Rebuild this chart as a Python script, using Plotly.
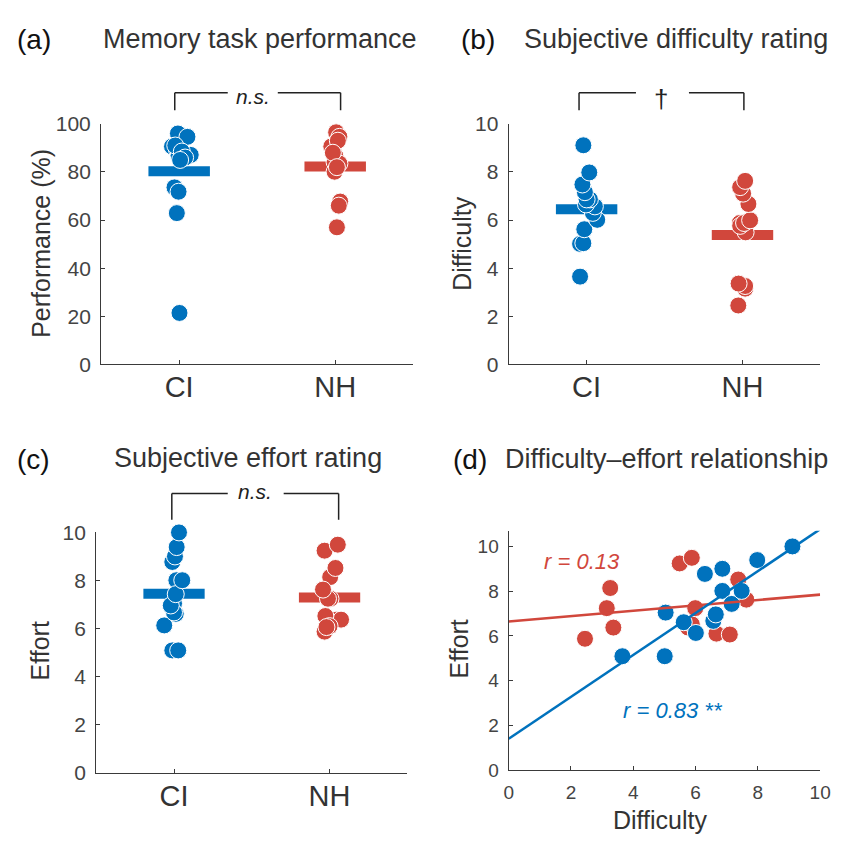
import numpy as np
import plotly.graph_objects as go

# ---------------- data ----------------
groups = ["CI", "NH"]

perf_CI = [96.0, 94.6, 90.6, 89.5, 87.1, 86.8, 73.6, 71.8, 62.9, 21.4, 91.0, 88.5, 86.0, 85.0]
perf_NH = [96.5, 94.6, 90.6, 86.8, 84.1, 83.5, 80.1, 67.7, 57.0, 93.0, 88.0, 82.0, 66.0]
jit_perf_CI = [-0.008, 0.053, -0.046, -0.015, 0.074, -0.004, -0.030, -0.004, -0.015, 0.002, -0.025, 0.017, 0.038, 0.006]
jit_perf_NH = [0.006, 0.027, -0.025, 0.0, -0.004, 0.027, -0.004, 0.032, 0.011, 0.017, -0.015, 0.011, 0.023]

diff_CI = [3.65, 5.01, 5.04, 5.62, 6.01, 6.30, 6.57, 6.65, 6.86, 6.86, 7.16, 7.48, 7.98, 9.11]
effort_CI = [5.09, 5.09, 7.04, 6.61, 6.13, 8.77, 6.67, 6.96, 9.00, 8.01, 7.43, 8.01, 9.39, 10.0]
diff_NH = [2.45, 3.15, 3.26, 3.36, 5.49, 5.88, 5.76, 5.88, 5.99, 6.67, 7.10, 7.37, 7.63]
effort_NH = [5.87, 7.24, 8.14, 6.37, 9.24, 9.49, 6.37, 6.52, 7.24, 6.10, 6.06, 8.52, 7.62]

jit_diff_CI = [-0.042, -0.042, -0.021, -0.015, 0.068, 0.040, 0.053, -0.004, 0.021, 0.0, -0.011, -0.027, 0.017, -0.021]
jit_diff_NH = [-0.027, 0.017, 0.017, -0.025, 0.020, -0.017, -0.015, 0.010, 0.049, 0.038, 0.004, -0.015, 0.017]
jit_eff_CI = [-0.011, 0.027, 0.0, 0.011, -0.063, -0.011, 0.0, -0.021, 0.006, 0.015, 0.011, 0.053, 0.017, 0.032]
jit_eff_NH = [-0.032, 0.006, 0.004, 0.042, -0.032, 0.053, 0.074, -0.027, -0.010, 0.0, -0.020, 0.038, -0.042]

r_text = {"NH": "r = 0.13", "CI": "r = 0.83 **"}

BLUE = "#0072BD"
RED = "#D1473C"
AX = "#3a3a3a"
TXT = "#333333"
FONT = "Liberation Sans, Arial, sans-serif"

W, H = 854, 844
def px(x):
    return x / W
def py(y):
    return 1 - y / H

fig = go.Figure()

dom = {
    1: dict(x=[px(98), px(416)], y=[py(362.3), py(115)]),
    2: dict(x=[px(513.3), px(831)], y=[py(362.3), py(115)]),
    3: dict(x=[px(93), px(410)], y=[py(782), py(535)]),
    4: dict(x=[px(513.3), px(830.7)], y=[py(779.3), py(533.3)]),
}

def axname(i, a):
    return a if i == 1 else f"{a}{i}"

def strip_panel(i, vals_ci, vals_nh, jit_ci, jit_nh):
    xa, ya = axname(i, "x"), axname(i, "y")
    for g, vals, jit, col in [(1, vals_ci, jit_ci, BLUE), (2, vals_nh, jit_nh, RED)]:
        m = float(np.mean(vals))
        fig.add_trace(go.Scatter(
            x=[g - 0.2, g + 0.2], y=[m, m], mode="lines",
            line=dict(color="white", width=12), xaxis=xa, yaxis=ya,
            showlegend=False, hoverinfo="skip"))
        fig.add_trace(go.Scatter(
            x=[g - 0.197, g + 0.197], y=[m, m], mode="lines",
            line=dict(color=col, width=10), xaxis=xa, yaxis=ya,
            showlegend=False, hoverinfo="skip"))
        fig.add_trace(go.Scatter(
            x=[g + j for j in jit], y=vals, mode="markers",
            marker=dict(color=col, size=17, line=dict(color="white", width=1)),
            xaxis=xa, yaxis=ya, showlegend=False, cliponaxis=False))

strip_panel(1, perf_CI, perf_NH, jit_perf_CI, jit_perf_NH)
strip_panel(2, diff_CI, diff_NH, jit_diff_CI, jit_diff_NH)
strip_panel(3, effort_CI, effort_NH, jit_eff_CI, jit_eff_NH)

# scatter panel (d)
xs_line = np.array([0.0, 10.0])
for dx, ey, col in [(diff_NH, effort_NH, RED), (diff_CI, effort_CI, BLUE)]:
    fig.add_trace(go.Scatter(
        x=dx, y=ey, mode="markers",
        marker=dict(color=col, size=17, line=dict(color="white", width=1)),
        xaxis="x4", yaxis="y4", showlegend=False, cliponaxis=False))
for dx, ey, col in [(diff_NH, effort_NH, RED), (diff_CI, effort_CI, BLUE)]:
    k, b = np.polyfit(dx, ey, 1)
    fig.add_trace(go.Scatter(
        x=xs_line, y=k * xs_line + b, mode="lines",
        line=dict(color=col, width=2.6),
        xaxis="x4", yaxis="y4", showlegend=False, cliponaxis=False))

common_ax = dict(showline=True, linecolor=AX, linewidth=1.3, ticks="inside",
                 ticklen=4, tickcolor=AX, tickwidth=1.2, showgrid=False,
                 zeroline=False, ticklabelstandoff=5,
                 tickfont=dict(family=FONT, color="#444444", size=21))

layout = dict(width=W, height=H, margin=dict(l=0, r=0, t=0, b=0),
              plot_bgcolor="white", paper_bgcolor="white",
              font=dict(family=FONT, color=TXT))

for i in (1, 2, 3):
    yr = [0, 100] if i == 1 else [0, 10]
    dt = 20 if i == 1 else 2
    layout[f"xaxis{'' if i == 1 else i}"] = dict(
        common_ax, domain=dom[i]["x"], range=[0.5, 2.5], tickvals=[1, 2], ticktext=groups,
        anchor=axname(i, "y"), ticklabelstandoff=-3,
        tickfont=dict(family=FONT, color="#333333", size=29))
    layout[f"yaxis{'' if i == 1 else i}"] = dict(
        common_ax, domain=dom[i]["y"], range=yr, dtick=dt, anchor=axname(i, "x"))

layout["xaxis4"] = dict(common_ax, domain=dom[4]["x"], range=[0, 10], dtick=2, anchor="y4",
                        tickfont=dict(family=FONT, color="#444444", size=19))
layout["yaxis4"] = dict(common_ax, domain=dom[4]["y"], range=[0, 10.7], tickvals=[0, 2, 4, 6, 8, 10],
                        anchor="x4", tickfont=dict(family=FONT, color="#444444", size=19))

fig.update_layout(**layout)

ann = []
def text(x, y, s, size, color=TXT, italic=False, xanchor="center", angle=0):
    if italic:
        s = f"<i>{s}</i>"
    ann.append(dict(x=px(x), y=py(y), xref="paper", yref="paper", text=s, showarrow=False,
                    xanchor=xanchor, yanchor="middle", textangle=angle,
                    font=dict(family=FONT, size=size, color=color)))

# panel labels and titles
text(10, 28, "(a)", 28, "#111111", xanchor="left")
text(260, 28, "Memory task performance", 27)
text(463, 28, "(b)", 28, "#111111", xanchor="left")
text(684, 28, "Subjective difficulty rating", 27)
text(10, 460, "(c)", 28, "#111111", xanchor="left")
text(248, 458, "Subjective effort rating", 27)
text(455, 460, "(d)", 28, "#111111", xanchor="left")
text(674, 460, "Difficulty\u2013effort relationship", 27)

# axis titles
text(36, 238, "Performance (%)", 25, angle=-90)
text(465, 238, "Difficulty", 25, angle=-90)
text(36, 657, "Effort", 25, angle=-90)
text(463, 655, "Effort", 25, angle=-90)
text(668, 831, "Difficulty", 25)

# significance labels
text(253, 87, "n.s.", 21, "#222222", italic=True)
text(669, 89, "\u2020", 26, "#222222")
text(255, 493, "n.s.", 21, "#222222", italic=True)

# correlation labels
text(588, 565, r_text["NH"], 22, RED, italic=True)
text(681, 718, r_text["CI"], 22, BLUE, italic=True)

shapes = []
def seg(x0, y0, x1, y1):
    shapes.append(dict(type="line", xref="paper", yref="paper",
                       x0=px(x0), y0=py(y0), x1=px(x1), y1=py(y1),
                       line=dict(color="#222222", width=1.5)))

# bracket (a)
seg(173, 83, 173, 101); seg(173, 83, 227, 83); seg(278, 83, 342, 83); seg(342, 83, 342, 101)
# bracket (b)
seg(585, 83, 585, 101); seg(585, 83, 643, 83); seg(697, 83, 753, 83); seg(753, 83, 753, 101)
# bracket (c)
seg(170, 495, 170, 522); seg(170, 495, 227, 495); seg(284, 495, 340, 495); seg(340, 495, 340, 522)

fig.update_layout(annotations=ann, shapes=shapes)

fig.write_html("out.html")
